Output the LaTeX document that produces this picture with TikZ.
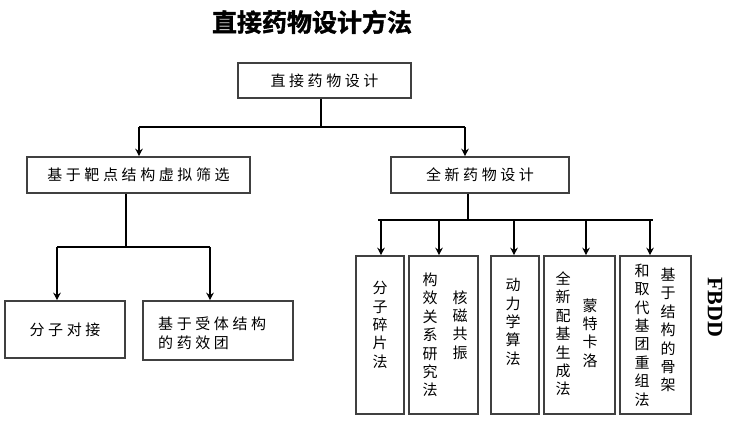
\documentclass[tikz,border=0pt]{standalone}
\usepackage{fontspec}
\setmainfont{Noto Sans CJK SC}
\newfontfamily\cjkls[LetterSpace=24]{Noto Sans CJK SC}
\newfontfamily\cjkt[FakeBold=1.5]{Noto Sans CJK SC Bold}
\newfontfamily\serifb{Liberation Serif}
\usetikzlibrary{arrows.meta}
\begin{document}
\begin{tikzpicture}[x=1pt,y=-1pt,
  box/.style={draw=black!75, line width=1.6pt, inner sep=0pt, rectangle},
  htext/.style={font=\cjkls\fontsize{15}{19}\selectfont, inner sep=0pt, align=left},
  vtext/.style={font=\fontsize{15}{18.4}\selectfont, inner sep=0pt, align=center},
  conn/.style={line width=2pt, draw=black},
  arr/.style={conn, -{Stealth[length=7.5pt,width=7.5pt]}},
  ]
\useasboundingbox (0,0) rectangle (730,420);
% title
\node[font=\cjkt\fontsize{25}{28}\selectfont, inner sep=0pt] (title) at (312,22) {直接药物设计方法};
% upper boxes
\node[box, minimum width=173pt, minimum height=35pt] (top) at (324.5,80.5) {};
\node[htext] (toptxt) at (top) {直接药物设计};
\node[box, minimum width=223pt, minimum height=36pt] (left) at (138.5,175) {};
\node[htext] (lefttxt) at (left) {基于靶点结构虚拟筛选};
\node[box, minimum width=178pt, minimum height=36pt] (right) at (480,175) {};
\node[htext] (righttxt) at (right) {全新药物设计};
% lower left boxes
\node[box, minimum width=120pt, minimum height=57pt] (dock) at (65,329.5) {};
\node[htext] (docktxt) at (dock) {分子对接};
\node[box, minimum width=150pt, minimum height=59pt] (pharm) at (218,330.5) {};
\node[htext, anchor=west] (pharmtxt) at (158,333) {基于受体结构\\的药效团};
% lower right boxes
\node[box, minimum width=48pt, minimum height=158pt] (b1) at (380,335) {};
\node[box, minimum width=69pt, minimum height=158pt] (b2) at (443.5,335) {};
\node[box, minimum width=48pt, minimum height=158pt] (b3) at (515,335) {};
\node[box, minimum width=71pt, minimum height=158pt] (b4) at (579.5,335) {};
\node[box, minimum width=71pt, minimum height=158pt] (b5) at (655.5,335) {};
\node[vtext] (t1) at (380,325) {分\\子\\碎\\片\\法};
\node[vtext] (t2a) at (430,335) {构\\效\\关\\系\\研\\究\\法};
\node[vtext] (t2b) at (460,325) {核\\磁\\共\\振};
\node[vtext] (t3) at (513,322) {动\\力\\学\\算\\法};
\node[vtext] (t4a) at (563,334) {全\\新\\配\\基\\生\\成\\法};
\node[vtext] (t4b) at (590,333) {蒙\\特\\卡\\洛};
\node[vtext] (t5a) at (642,335) {和\\取\\代\\基\\团\\重\\组\\法};
\node[vtext] (t5b) at (668,330) {基\\于\\结\\构\\的\\骨\\架};
\node[font=\serifb\bfseries\fontsize{22}{24}\selectfont, inner sep=0pt, rotate=-90] (fbdd) at (715,307) {FBDD};
% connectors top level
\coordinate (j0) at (321,127);
\coordinate (jl) at (139,127);
\coordinate (jr) at (465,127);
\draw[conn] (top.south -| j0) -- (j0);
\draw[conn] (jl) -- (jr);
\draw[arr] (jl) -- (jl |- left.north);
\draw[arr] (jr) -- (jr |- right.north);
% left branch
\coordinate (k0) at (126,247);
\coordinate (kl) at (57,247);
\coordinate (kr) at (210,247);
\draw[conn] (left.south -| k0) -- (k0);
\draw[conn] (kl) -- (kr);
\draw[arr] (kl) -- (kl |- dock.north);
\draw[arr] (kr) -- (kr |- pharm.north);
% right branch
\coordinate (m0) at (468,220);
\coordinate (m1) at (381,220);
\coordinate (m2) at (439,220);
\coordinate (m3) at (514,220);
\coordinate (m4) at (586,220);
\coordinate (m5) at (650,220);
\draw[conn] (right.south -| m0) -- (m0);
\draw[conn] (378,220) -- (653,220);
\draw[arr] (m1) -- (m1 |- b1.north);
\draw[arr] (m2) -- (m2 |- b2.north);
\draw[arr] (m3) -- (m3 |- b3.north);
\draw[arr] (m4) -- (m4 |- b4.north);
\draw[arr] (m5) -- (m5 |- b5.north);
\end{tikzpicture}
\end{document}
